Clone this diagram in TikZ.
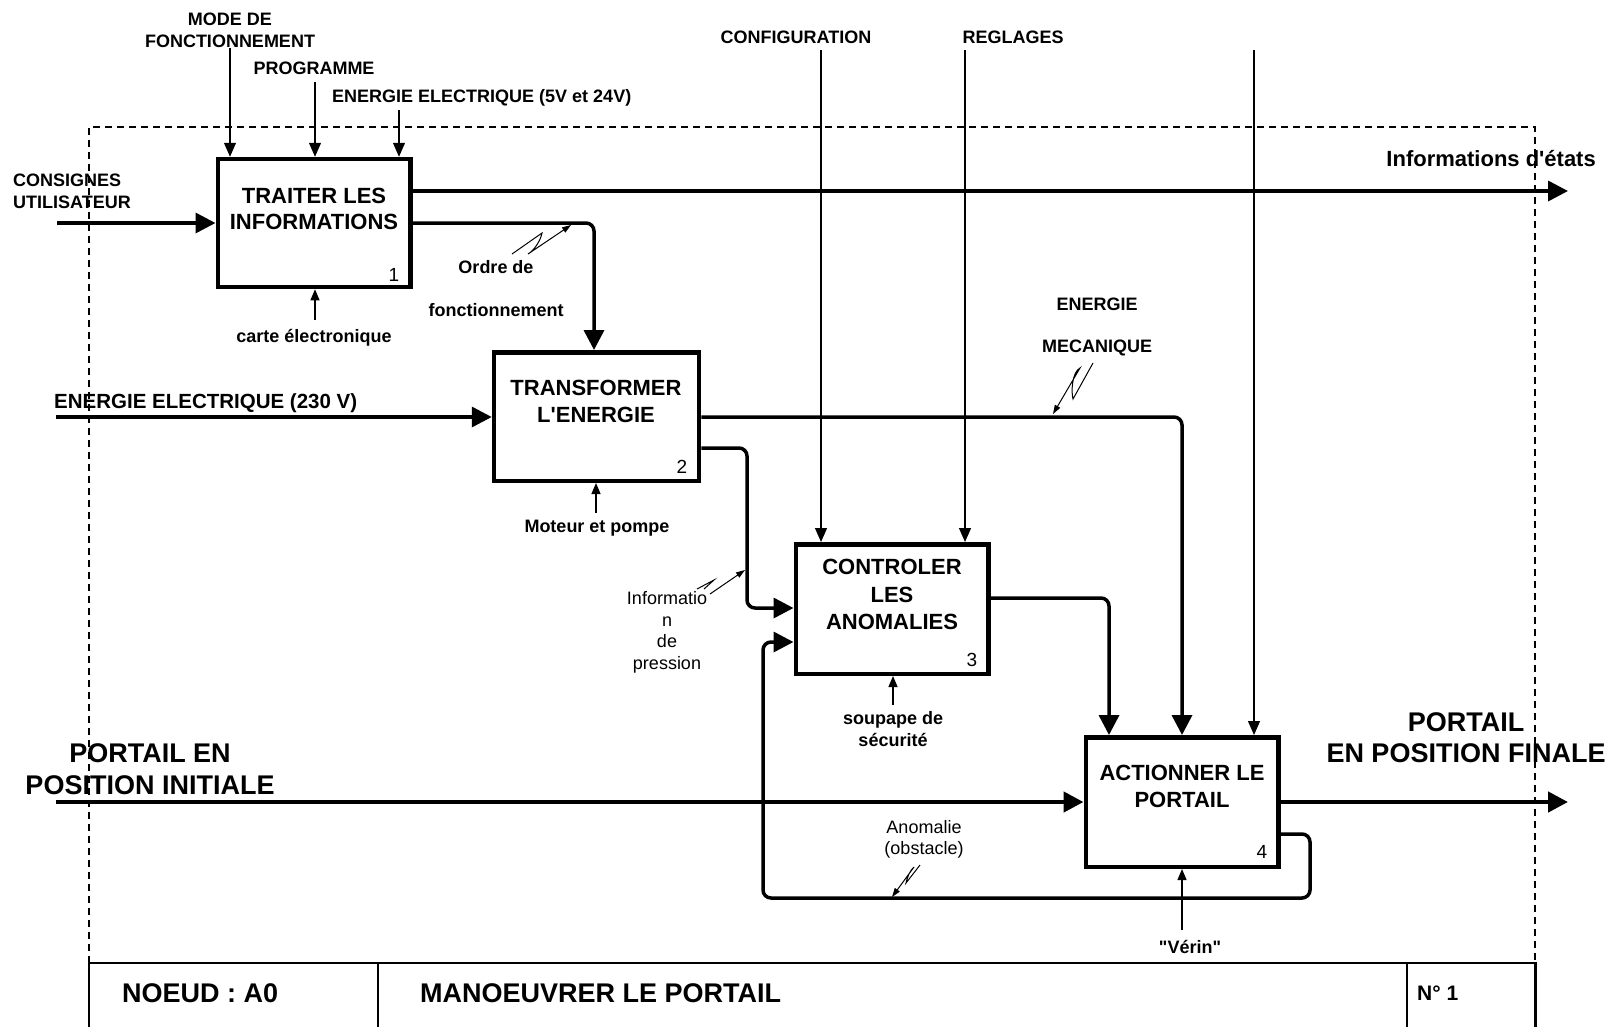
\documentclass[tikz,border=0pt]{standalone}
\usepackage{fontspec}
\setmainfont{Liberation Sans}[Ligatures=TeXOff]
\usetikzlibrary{arrows.meta}
\begin{document}
\begin{tikzpicture}[x=1pt,y=-1pt,
  fn/.style={draw, line width=4.5pt, inner sep=0pt},
  bighead/.style={-{Triangle[length=20pt,width=20pt]}},
  flow/.style={line width=3.5pt, bighead, rounded corners=8pt},
  mainflow/.style={line width=4.5pt, bighead},
  ctrl/.style={line width=1.2pt, -{Triangle[length=14pt,width=12pt]}},
  mech/.style={line width=1.2pt, -{Triangle[length=11pt,width=9pt]}},
  squig/.style={line width=1pt, -{Triangle[length=9pt,width=6pt]}},
  lbl/.style={font=\fontsize{18}{22}\selectfont\bfseries, inner sep=0pt, align=center},
  reg/.style={font=\fontsize{18}{21.5}\selectfont, inner sep=0pt, align=center},
  num/.style={font=\fontsize{19}{22}\selectfont, inner sep=0pt},
  ftitle/.style={font=\fontsize{22}{27}\selectfont\bfseries, inner sep=0pt, align=center},
  big/.style={font=\fontsize{27}{31.5}\selectfont\bfseries, inner sep=0pt, align=center},
  frame/.style={line width=1.3pt, dash pattern=on 7pt off 5pt},
  tblock/.style={line width=2pt}
]
\useasboundingbox (0,0) rectangle (1616,1026);

% ---- context frame and title block ----
\draw[frame] (89,963) -- (89,127) -- (1535,127) -- (1535,963);
\draw[tblock] (89,1030) -- (89,963) -- (1535,963);
\draw[line width=3pt] (1535,961.5) -- (1535,1030);
\draw[tblock] (378,963) -- (378,1030);
\draw[tblock] (1407,963) -- (1407,1030);
\node[big, anchor=west] (noeud) at (122,993) {NOEUD : A0};
\node[big, anchor=west] (titre) at (420,993) {MANOEUVRER LE PORTAIL};
\node[ftitle, font=\fontsize{21}{25}\selectfont\bfseries, anchor=west] (numero) at (1417,993) {N° 1};

% ---- function boxes ----
\node[fn, minimum width=192.5pt, minimum height=128pt] (b1) at (314,223) {};
\node[fn, minimum width=205pt, minimum height=128.5pt] (b2) at (596.5,416.5) {};
\node[fn, minimum width=192.5pt, minimum height=129.5pt] (b3) at (892,609) {};
\node[fn, minimum width=192.5pt, minimum height=129.5pt] (b4) at (1182,802) {};

\node[ftitle, font=\fontsize{22}{26}\selectfont\bfseries] (t1) at (314,209) {TRAITER LES\\INFORMATIONS};
\node[ftitle] (t2) at (596,401.5) {TRANSFORMER\\L'ENERGIE};
\node[ftitle, font=\fontsize{22}{27.5}\selectfont\bfseries] (t3) at (892,594.5) {CONTROLER\\LES\\ANOMALIES};
\node[ftitle] (t4) at (1182,786.5) {ACTIONNER LE\\PORTAIL};

\node[num] (n1) at (394,275) {1};
\node[num] (n2) at (682,467) {2};
\node[num] (n3) at (972,660) {3};
\node[num] (n4) at (1262,852) {4};

% ---- level coordinates ----
\coordinate (yConsignes) at (0,223);
\coordinate (yEtats) at (0,191);
\coordinate (yOrdre) at (0,223);
\coordinate (y230) at (0,417);
\coordinate (yMeca) at (0,417);
\coordinate (yPression) at (0,448);
\coordinate (yEntreeP) at (0,608);
\coordinate (yRetour) at (0,642);
\coordinate (yCtrlOut) at (0,598);
\coordinate (yPortail) at (0,802);
\coordinate (yAnomalie) at (0,834);

% ---- box 1: controls, input, outputs, mechanism ----
\node[lbl] (lMode) at (230,30) {MODE DE\\FONCTIONNEMENT};
\node[lbl] (lProg) at (314,68) {PROGRAMME};
\node[lbl, anchor=west] (lEnerg5) at (332,98) {ENERGIE ELECTRIQUE (5V et 24V)};
\coordinate (sMode) at (230,48);
\coordinate (sProg) at (315,82);
\coordinate (sEnerg5) at (399,110);
\draw[ctrl] (sMode) -- (sMode |- b1.north);
\draw[ctrl] (sProg) -- (sProg |- b1.north);
\draw[ctrl] (sEnerg5) -- (sEnerg5 |- b1.north);

\node[lbl, align=left, anchor=west] (lConsignes) at (13,191) {CONSIGNES\\UTILISATEUR};
\coordinate (sConsignes) at (57,223);
\draw[flow] (sConsignes) -- (b1.west |- yConsignes);

\node[ftitle, anchor=east] (lEtats) at (1596,159) {Informations d'états};
\coordinate (eEtats) at (1568,191);
\draw[flow] (b1.east |- yEtats) -- (eEtats);

\draw[flow] (b1.east |- yOrdre) -- (594,223) -- (594,223 |- b2.north);
\node[lbl, font=\fontsize{18}{43}\selectfont\bfseries] (lOrdre) at (496,288.5) {Ordre de\\fonctionnement};
\coordinate (q1a) at (512,254);
\coordinate (q1b) at (542,233);
\coordinate (q1c) at (528,254);
\coordinate (q1d) at (571,225);
\draw[squig] (q1a) -- (q1b) .. controls (540,243) and (532,252) .. (q1c) -- (q1d);

\node[lbl] (lCarte) at (314,338) {carte électronique};
\coordinate (sCarte) at (315,320);
\draw[mech] (sCarte) -- (sCarte |- b1.south);

% ---- box 2 ----
\node[lbl, font=\fontsize{20.5}{24}\selectfont\bfseries, anchor=west] (l230) at (54,403) {ENERGIE ELECTRIQUE (230 V)};
\coordinate (s230) at (56,417);
\draw[flow] (s230) -- (b2.west |- y230);

\node[lbl] (lMoteur) at (597,528) {Moteur et pompe};
\coordinate (sMoteur) at (596,513);
\draw[mech] (sMoteur) -- (sMoteur |- b2.south);

\node[lbl, font=\fontsize{18}{42}\selectfont\bfseries] (lMeca) at (1097,327) {ENERGIE\\MECANIQUE};
\draw[flow] (b2.east |- yMeca) -- (1182,417) -- (1182,417 |- b4.north);
\coordinate (q2a) at (1093,363);
\coordinate (q2b) at (1073,399);
\coordinate (q2c) at (1080,368);
\coordinate (q2d) at (1053,414);
\draw[squig] (q2a) -- (q2b) .. controls (1071,392) and (1072,372) .. (q2c) -- (q2d);

\draw[flow] (b2.east |- yPression) -- (747,448) -- (747,608) -- (b3.west |- yEntreeP);
\node[reg] (lPression) at (667,632.5) {Informatio\\n\\de\\pression};
\coordinate (q3a) at (697,589);
\coordinate (q3b) at (714,580);
\coordinate (q3c) at (704,589);
\coordinate (q3d) at (710,594);
\coordinate (q3e) at (745,570);
\draw[line width=1pt] (q3a) -- (q3b) -- (q3c);
\draw[squig] (q3d) -- (q3e);

% ---- box 3 ----
\node[lbl] (lConfig) at (796,37) {CONFIGURATION};
\node[lbl] (lReglages) at (1013,37) {REGLAGES};
\coordinate (sConfig) at (821,50);
\coordinate (sReglages) at (965,50);
\coordinate (sCommande) at (1254,50);
\draw[ctrl] (sConfig) -- (sConfig |- b3.north);
\draw[ctrl] (sReglages) -- (sReglages |- b3.north);
\draw[ctrl] (sCommande) -- (sCommande |- b4.north);

\draw[flow] (b3.east |- yCtrlOut) -- (1109,598) -- (1109,598 |- b4.north);

\node[lbl] (lSoupape) at (893,729.5) {soupape de\\sécurité};
\coordinate (sSoupape) at (893,705);
\draw[mech] (sSoupape) -- (sSoupape |- b3.south);

% ---- box 4 ----
\node[big] (lInit) at (150,769) {PORTAIL EN\\POSITION INITIALE};
\coordinate (sPortail) at (56,802);
\draw[mainflow] (sPortail) -- (b4.west |- yPortail);

\node[big] (lFinal) at (1466,737.5) {PORTAIL\\EN POSITION FINALE};
\coordinate (ePortail) at (1568,802);
\draw[mainflow] (b4.east |- yPortail) -- (ePortail);

\draw[flow] (b4.east |- yAnomalie) -- (1310,834) -- (1310,898) -- (763,898) -- (763,642) -- (b3.west |- yRetour);
\node[reg, font=\fontsize{18}{21}\selectfont] (lAnomalie) at (924,839.5) {Anomalie\\(obstacle)};
\coordinate (q4a) at (920,865);
\coordinate (q4b) at (906,883);
\coordinate (q4c) at (914,867);
\coordinate (q4d) at (892,897);
\draw[squig] (q4a) -- (q4b) .. controls (907,878) and (910,870) .. (q4c) -- (q4d);

\node[lbl] (lVerin) at (1190,947) {"Vérin"};
\coordinate (sVerin) at (1182,930);
\draw[mech] (sVerin) -- (sVerin |- b4.south);
\end{tikzpicture}
\end{document}
